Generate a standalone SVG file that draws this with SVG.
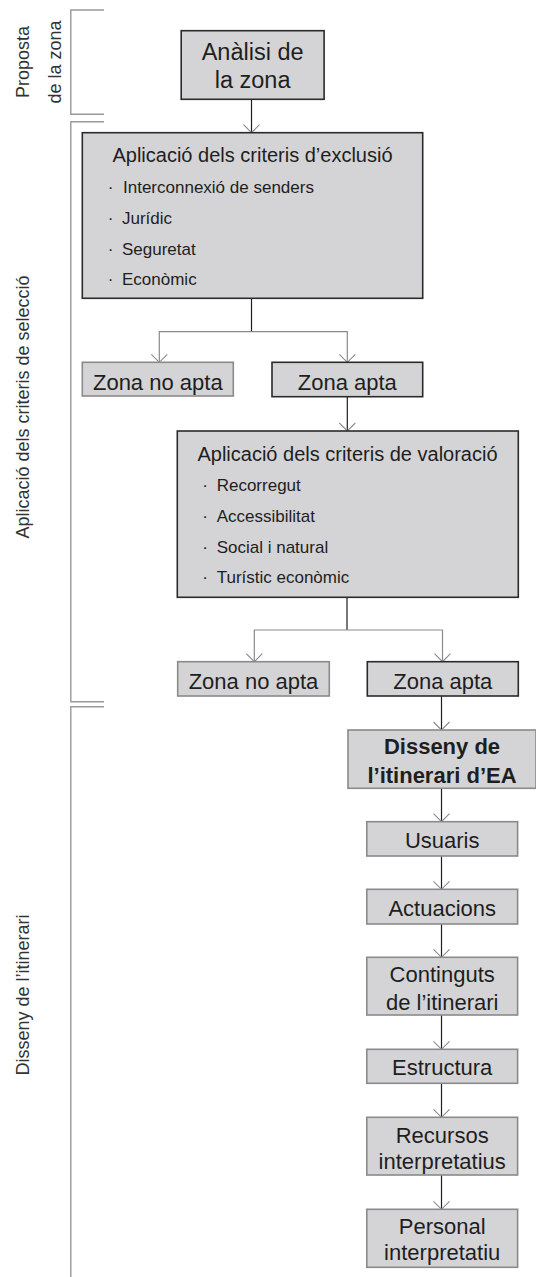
<svg xmlns="http://www.w3.org/2000/svg" width="536" height="1277" viewBox="0 0 536 1277">
<style>
text{font-family:"Liberation Sans",Arial,sans-serif;fill:#1e1e1e}
.box{fill:#d4d4d6;stroke:#2a2a2a;stroke-width:1.6}
.boxg{fill:#d4d4d6;stroke:#8a8a8a;stroke-width:1.6}
.lbl{font-size:22px;text-anchor:middle}
.big{font-size:23.5px;text-anchor:middle}
.ttl{font-size:20px;text-anchor:middle}
.bul{font-size:17px}
.side{font-size:18px;text-anchor:middle;fill:#333}
.bold{font-size:22px;font-weight:bold;text-anchor:middle}
.br{fill:none;stroke:#999;stroke-width:1.4}
.cb{fill:none;stroke:#1e1e1e;stroke-width:1.2}
.cg{fill:none;stroke:#8a8a8a;stroke-width:1.2}
</style>
<defs>
<marker id="arr" markerUnits="userSpaceOnUse" viewBox="-10 -10 20 20" refX="0" refY="0" markerWidth="20" markerHeight="20" orient="auto">
<path d="M-8,-8 L0,0 L-8,8" fill="none" stroke="#8a8a8a" stroke-width="1.1"/>
</marker>
</defs>

<g id="brackets">
<path class="br" d="M104,10 H70.8 V114.3 H104"/>
<path class="br" d="M104,121.7 H70.8 V701.7 H104"/>
<path class="br" d="M104,706.7 H70.8 V1277"/>
<text class="side" transform="translate(29,62) rotate(-90)">Proposta</text>
<text class="side" transform="translate(61,62) rotate(-90)">de la zona</text>
<text class="side" transform="translate(29,407) rotate(-90)">Aplicació dels criteris de selecció</text>
<text class="side" transform="translate(29,995) rotate(-90)">Disseny de l’itinerari</text>
</g>

<g id="connectors">
<path class="cb" d="M251.5,99.3 V132.7" marker-end="url(#arr)"/>
<path class="cb" d="M251.5,298.3 V331.7"/>
<path class="cg" d="M251.5,331.7 H159.3 V362.3" marker-end="url(#arr)"/>
<path class="cg" d="M251.5,331.7 H347.3 V362.3" marker-end="url(#arr)"/>
<path class="cb" d="M347.3,396.7 V431" marker-end="url(#arr)"/>
<path class="cb" d="M347,597.3 V630"/>
<path class="cg" d="M347,630 H254.3 V661.7" marker-end="url(#arr)"/>
<path class="cg" d="M347,630 H442.5 V661.7" marker-end="url(#arr)"/>
<path class="cb" d="M441.5,696 V730" marker-end="url(#arr)"/>
<path class="cb" d="M441.5,788.3 V821.7" marker-end="url(#arr)"/>
<path class="cb" d="M441.5,856 V889.3" marker-end="url(#arr)"/>
<path class="cb" d="M441.5,924 V957.3" marker-end="url(#arr)"/>
<path class="cb" d="M441.5,1015 V1049.3" marker-end="url(#arr)"/>
<path class="cb" d="M441.5,1083.3 V1117.3" marker-end="url(#arr)"/>
<path class="cb" d="M441.5,1175 V1209.3" marker-end="url(#arr)"/>
</g>

<g id="n-analisi">
<rect class="box" x="181.2" y="30.7" width="142.9" height="68.6"/>
<text class="big" x="252.6" y="60">Anàlisi de</text>
<text class="big" x="252.6" y="88.3">la zona</text>
</g>

<g id="n-exclusio">
<rect class="box" x="82.3" y="132.7" width="340.4" height="165.6"/>
<text class="ttl" x="252.5" y="162.3">Aplicació dels criteris d’exclusió</text>
<text class="bul" x="110.7" y="193.3" text-anchor="middle">·</text>
<text class="bul" x="123" y="193.3">Interconnexió de senders</text>
<text class="bul" x="110.7" y="224" text-anchor="middle">·</text>
<text class="bul" x="122" y="224">Jurídic</text>
<text class="bul" x="110.7" y="254.5" text-anchor="middle">·</text>
<text class="bul" x="122" y="254.5">Seguretat</text>
<text class="bul" x="110.7" y="285" text-anchor="middle">·</text>
<text class="bul" x="122" y="285">Econòmic</text>
</g>

<g id="n-noapta1">
<rect class="boxg" x="82.3" y="362.3" width="151" height="33.7"/>
<text class="lbl" x="157.8" y="390">Zona no apta</text>
</g>

<g id="n-apta1">
<rect class="box" x="272" y="362.3" width="150.7" height="34.4"/>
<text class="lbl" x="347.3" y="390">Zona apta</text>
</g>

<g id="n-valoracio">
<rect class="box" x="177.3" y="431" width="341" height="166.3"/>
<text class="ttl" x="347.5" y="460.5">Aplicació dels criteris de valoració</text>
<text class="bul" x="205" y="491" text-anchor="middle">·</text>
<text class="bul" x="216.7" y="491">Recorregut</text>
<text class="bul" x="205" y="521.7" text-anchor="middle">·</text>
<text class="bul" x="216.7" y="521.7">Accessibilitat</text>
<text class="bul" x="205" y="552.5" text-anchor="middle">·</text>
<text class="bul" x="216.7" y="552.5">Social i natural</text>
<text class="bul" x="205" y="583.3" text-anchor="middle">·</text>
<text class="bul" x="216.7" y="583.3">Turístic econòmic</text>
</g>

<g id="n-noapta2">
<rect class="boxg" x="177.7" y="661.7" width="151.6" height="34.3"/>
<text class="lbl" x="253.5" y="689">Zona no apta</text>
</g>

<g id="n-apta2">
<rect class="box" x="367.3" y="661.7" width="151" height="34.3"/>
<text class="lbl" x="442.8" y="689">Zona apta</text>
</g>

<g id="n-disseny">
<rect class="boxg" x="348" y="730" width="188" height="58.3"/>
<text class="bold" x="442" y="754">Disseny de</text>
<text class="bold" x="442" y="783.3">l’itinerari d’EA</text>
</g>

<g id="n-usuaris">
<rect class="boxg" x="366.8" y="821.7" width="150.8" height="34.3"/>
<text class="lbl" x="442.2" y="848.3">Usuaris</text>
</g>

<g id="n-actuacions">
<rect class="boxg" x="366.8" y="889.3" width="150.8" height="34.7"/>
<text class="lbl" x="442.2" y="916">Actuacions</text>
</g>

<g id="n-continguts">
<rect class="boxg" x="366.8" y="957.3" width="150.8" height="57.7"/>
<text class="lbl" x="442.2" y="982">Continguts</text>
<text class="lbl" x="442.2" y="1009.5">de l’itinerari</text>
</g>

<g id="n-estructura">
<rect class="boxg" x="366.8" y="1049.3" width="150.8" height="34"/>
<text class="lbl" x="442.2" y="1075">Estructura</text>
</g>

<g id="n-recursos">
<rect class="boxg" x="366.8" y="1117.3" width="150.8" height="57.7"/>
<text class="lbl" x="442.2" y="1142.7">Recursos</text>
<text class="lbl" x="442.2" y="1169">interpretatius</text>
</g>

<g id="n-personal">
<rect class="boxg" x="366.8" y="1209.3" width="150.8" height="58"/>
<text class="lbl" x="442.2" y="1233.5">Personal</text>
<text class="lbl" x="442.2" y="1260">interpretatiu</text>
</g>
</svg>
